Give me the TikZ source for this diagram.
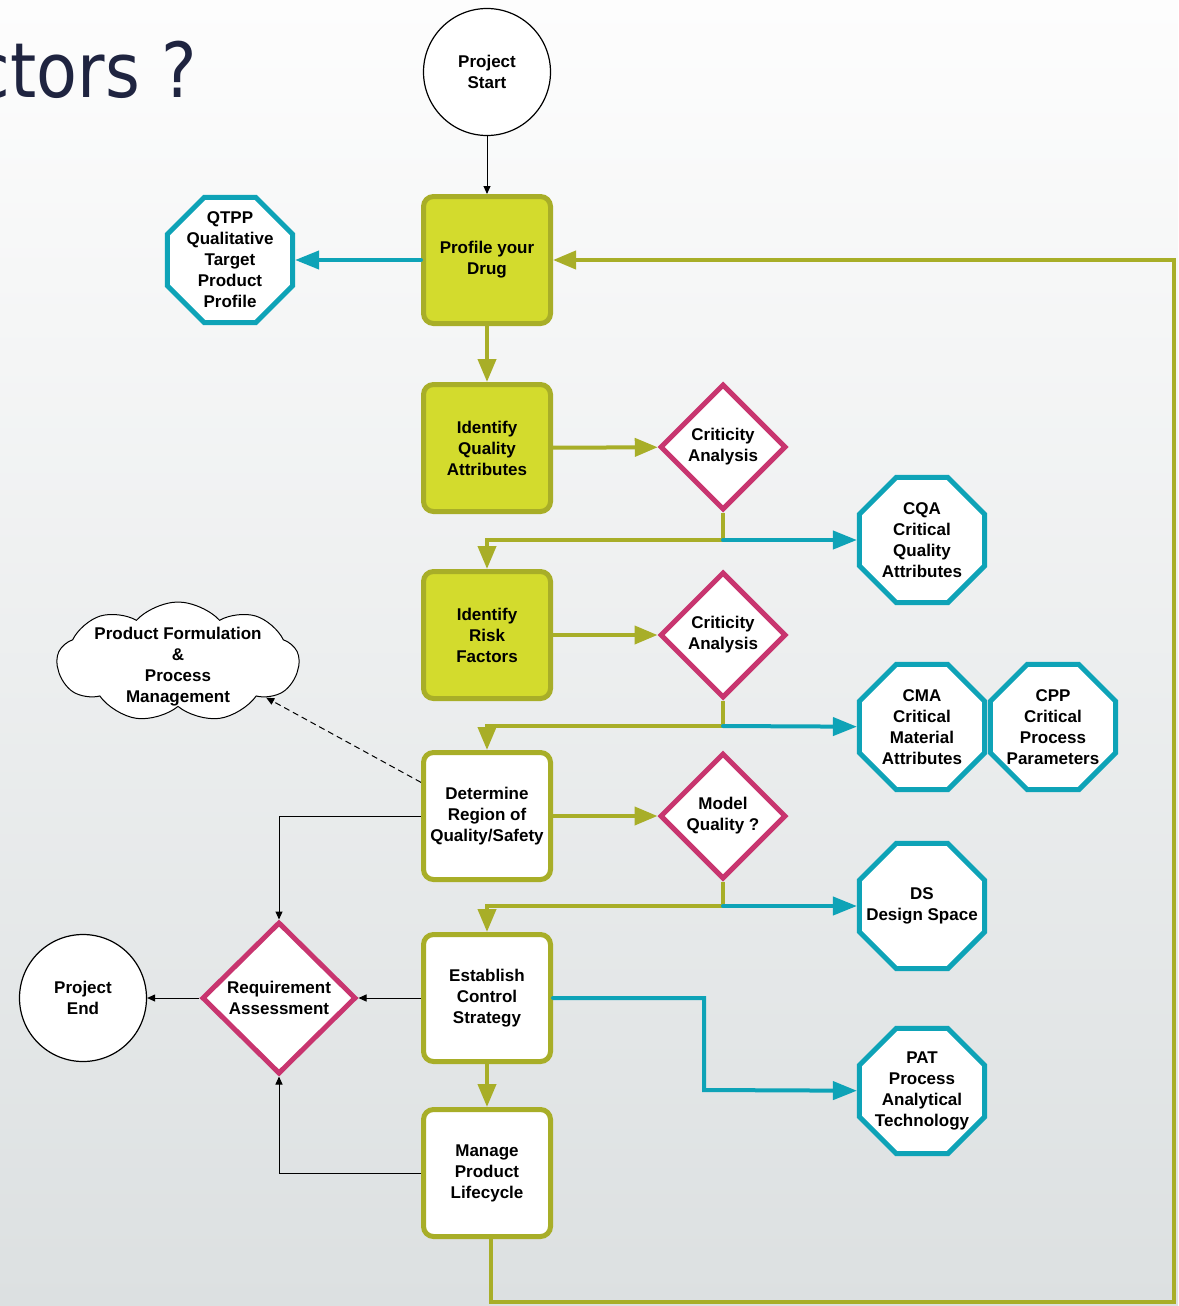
\documentclass[tikz,border=0pt]{standalone}
\usepackage{fontspec}
\setmainfont{Liberation Sans}
\newfontfamily\titlefont[FakeStretch=0.88]{DejaVu Sans}
\usetikzlibrary{shapes.geometric,shapes.symbols,arrows.meta,calc}
\definecolor{limec}{RGB}{211,219,45}
\definecolor{olivec}{RGB}{168,174,40}
\definecolor{tealc}{RGB}{14,163,183}
\definecolor{pinkc}{RGB}{200,53,111}
\definecolor{navyc}{RGB}{31,36,64}
\definecolor{bgtop}{RGB}{253,253,253}
\definecolor{bgbot}{RGB}{220,224,225}
\begin{document}
\begin{tikzpicture}[x=0.5pt,y=-0.5pt,
  txt/.style={font=\fontsize{8.5pt}{10.5pt}\selectfont\bfseries, align=center, text=black},
  stepbox/.style={txt, rectangle, rounded corners=5pt, draw=olivec, line width=2.5pt, minimum width=63.5pt, minimum height=63.5pt, inner sep=1pt},
  limebox/.style={stepbox, fill=limec},
  whitebox/.style={stepbox, fill=white},
  decide/.style={diamond, draw=pinkc, line width=2.5pt, fill=white, inner sep=0pt, minimum width=63pt, minimum height=63pt},
  octa/.style={regular polygon, regular polygon sides=8, draw=tealc, line width=2.5pt, fill=white, inner sep=0pt, minimum size=67.7pt},
  term/.style={txt, circle, draw=black, line width=0.6pt, fill=white, minimum size=63.5pt, inner sep=0pt},
  oarr/.style={draw=olivec, line width=2pt, -{Triangle[length=11.5pt,width=9pt]}},
  oline/.style={draw=olivec, line width=2pt},
  tarr/.style={draw=tealc, line width=2pt, line cap=round, -{Triangle[length=12pt,width=9pt]}},
  barr/.style={draw=black, line width=0.5pt, -{Triangle[length=4pt,width=3.5pt]}},
]
\useasboundingbox (0,0) rectangle (1178,1306);
\clip (0,0) rectangle (1178,1306);
\shade[top color=bgtop, bottom color=bgbot] (0,0) rectangle (1178,1306);

\node[anchor=base east, font=\titlefont\fontsize{38pt}{40pt}\selectfont, text=navyc, inner sep=0pt] (title) at (197,97) {ctors ?};

% terminals
\node[term] (start) at (487,72) {Project\\Start};
\node[term] (pend) at (83,998) {Project\\End};

% main steps
\node[limebox] (profile) at (487,260) {Profile your\\Drug};
\node[limebox] (iqa) at (487,448) {Identify\\Quality\\Attributes};
\node[limebox] (irf) at (487,635) {Identify\\Risk\\Factors};
\node[whitebox] (det) at (487,816) {Determine\\Region of\\Quality/Safety};
\node[whitebox] (est) at (487,998) {Establish\\Control\\Strategy};
\node[whitebox] (man) at (487,1173) {Manage\\Product\\Lifecycle};

% decisions
\node[decide, label={[txt]center:{Criticity\\Analysis}}] (crit1) at (723,447) {};
\node[decide, label={[txt]center:{Criticity\\Analysis}}] (crit2) at (723,635) {};
\node[decide, label={[txt]center:{Model\\Quality ?}}] (mq) at (723,816) {};
\node[decide, minimum width=77pt, minimum height=76pt, label={[txt]center:{Requirement\\Assessment}}] (req) at (279,998) {};

% outputs
\node[octa, label={[txt]center:{QTPP\\Qualitative\\Target\\Product\\Profile}}] (qtpp) at (230,260) {};
\node[octa, label={[txt]center:{CQA\\Critical\\Quality\\Attributes}}] (cqa) at (922,540) {};
\node[octa, label={[txt]center:{CMA\\Critical\\Material\\Attributes}}] (cma) at (922,727) {};
\node[octa, label={[txt]center:{CPP\\Critical\\Process\\Parameters}}] (cpp) at (1053,727) {};
\node[octa, label={[txt]center:{DS\\Design Space}}] (ds) at (922,906) {};
\node[octa, label={[txt]center:{PAT\\Process\\Analytical\\Technology}}] (pat) at (922,1091) {};

% cloud
\node[cloud, cloud puffs=9, cloud puff arc=95, cloud ignores aspect, draw=black, fill=white, line width=0.5pt, minimum width=121pt, minimum height=60pt, inner sep=0pt, label={[txt, yshift=-2.5pt]center:{Product Formulation\\\&\\Process\\Management}}] (cloud) at (178,662) {};

% junction coordinates
\coordinate (j1) at (723,540);
\coordinate (j2) at (723,726);
\coordinate (j3) at (723,906);
\coordinate (k1) at (704,1090);
\coordinate (r1) at (491,1302);
\coordinate (r2) at (1174,1302);

% thin connectors
\draw[barr] (start) -- (profile);
\draw[barr] (est) -- (req);
\draw[barr] (req) -- (pend);
\draw[barr] (det.west) -| (req.north);
\draw[barr] (man.west) -| (req.south);
\draw[barr, dashed, dash pattern=on 3pt off 2pt] (det.153) -- (cloud.-22);

% olive flow
\draw[oarr] (profile) -- (iqa);
\draw[oarr] (iqa) -- (crit1);
\draw[oline] (crit1.south) -- (j1);
\draw[oarr] (j1) -| (irf.north);
\draw[oarr] (irf) -- (crit2);
\draw[oline] (crit2.south) -- (j2);
\draw[oarr] (j2) -| (det.north);
\draw[oarr] (det) -- (mq);
\draw[oline] (mq.south) -- (j3);
\draw[oarr] (j3) -| (est.north);
\draw[oarr] (est) -- (man);
\draw[oarr] (man.south -| r1) -- (r1) -- (r2) |- (profile.east);

% teal flow
\draw[tarr] (profile) -- (qtpp);
\draw[tarr] (j1) -- (cqa);
\draw[tarr] (j2) -- (cma);
\draw[tarr] (j3) -- (ds);
\draw[tarr] (est.east) -| (k1) -- (pat);
\end{tikzpicture}
\end{document}
